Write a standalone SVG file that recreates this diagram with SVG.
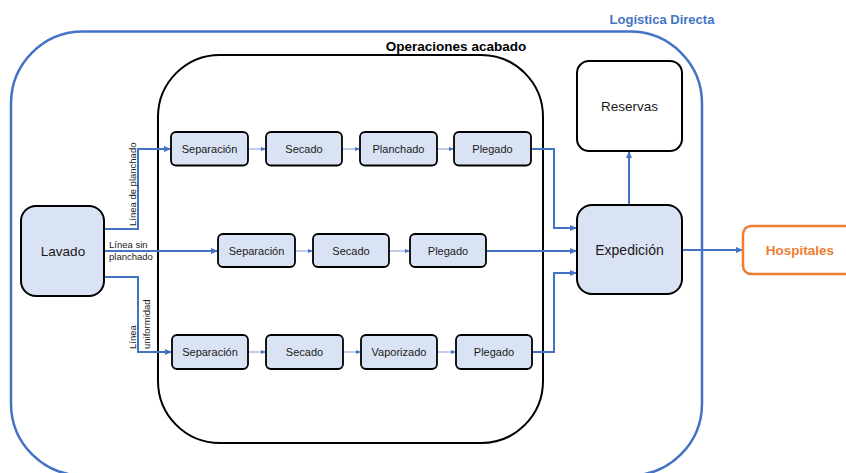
<svg xmlns="http://www.w3.org/2000/svg" width="846" height="473" viewBox="0 0 846 473">
  <style>
    .box { fill: #DAE3F3; stroke: #000; stroke-width: 1.8; }
    .big { fill: #DAE3F3; stroke: #000; stroke-width: 2; }
    .plain { fill: #fff; stroke: #000; stroke-width: 2; }
    .t { font-family: "Liberation Sans", Arial, sans-serif; fill: #1a1a1a; text-anchor: middle; dominant-baseline: central; }
    .small { font-size: 11px; }
    .lab { font-family: "Liberation Sans", Arial, sans-serif; font-size: 9.5px; fill: #1a1a1a; }
    .main { fill: none; stroke: #4472C4; stroke-width: 2; }
    .thin { fill: none; stroke: #7A9DD8; stroke-width: 1; }
  </style>
  <defs>
    <marker id="ah" markerUnits="userSpaceOnUse" markerWidth="8" markerHeight="8" refX="7" refY="4" orient="auto">
      <path d="M0,1 L7,4 L0,7 Z" fill="#4472C4"/>
    </marker>
    <marker id="ahs" markerUnits="userSpaceOnUse" markerWidth="6" markerHeight="6" refX="5" refY="3" orient="auto">
      <path d="M0,1 L5,3 L0,5 Z" fill="#4472C4"/>
    </marker>
  </defs>

  <!-- Direct logistics boundary -->
  <g id="logistica-directa">
    <rect x="11" y="31.5" width="691" height="444" rx="72" ry="72" fill="none" stroke="#4472C4" stroke-width="2.5"/>
    <text x="662" y="19" font-family="Liberation Sans, Arial, sans-serif" font-size="13px" font-weight="bold" fill="#4472C4" text-anchor="middle" dominant-baseline="central">Logística Directa</text>
  </g>

  <!-- Finishing operations container -->
  <g id="operaciones-acabado">
    <rect x="158" y="55" width="385" height="388" rx="62" ry="62" fill="none" stroke="#000" stroke-width="2"/>
    <text x="456" y="46" font-family="Liberation Sans, Arial, sans-serif" font-size="13.5px" font-weight="bold" fill="#000" text-anchor="middle" dominant-baseline="central">Operaciones acabado</text>
  </g>

  <!-- Connectors -->
  <g id="connectors">
    <!-- from Lavado -->
    <path class="main" d="M104,229 H138 V149 H171" marker-end="url(#ah)"/>
    <path class="main" d="M104,251 H218" marker-end="url(#ah)"/>
    <path class="main" d="M104,277 H138 V352 H172" marker-end="url(#ah)"/>
    <!-- within rows -->
    <path class="thin" d="M248,149 H266" marker-end="url(#ahs)"/>
    <path class="thin" d="M342,149 H360" marker-end="url(#ahs)"/>
    <path class="thin" d="M437,149 H454" marker-end="url(#ahs)"/>
    <path class="thin" d="M295,251 H313" marker-end="url(#ahs)"/>
    <path class="thin" d="M389,251 H410" marker-end="url(#ahs)"/>
    <path class="thin" d="M248,352 H266" marker-end="url(#ahs)"/>
    <path class="thin" d="M343,352 H361" marker-end="url(#ahs)"/>
    <path class="thin" d="M437,352 H456" marker-end="url(#ahs)"/>
    <!-- to Expedición -->
    <path class="main" d="M531,149 H554 V228 H577" marker-end="url(#ah)"/>
    <path class="main" d="M486,251 H577" marker-end="url(#ah)"/>
    <path class="main" d="M532,352 H554 V273 H577" marker-end="url(#ah)"/>
    <!-- from Expedición -->
    <path class="main" d="M629,205 V151" marker-end="url(#ah)"/>
    <path class="main" d="M682,250 H743" marker-end="url(#ah)"/>
    <!-- line labels -->
    <text class="lab" transform="translate(136,226) rotate(-90)">Línea de planchado</text>
    <text class="lab" x="109" y="247.5">Línea sin</text>
    <text class="lab" x="109" y="260">planchado</text>
    <text class="lab" transform="translate(135.5,349) rotate(-90)">Línea</text>
    <text class="lab" transform="translate(149.5,349) rotate(-90)">uniformidad</text>
  </g>

  <g id="lavado">
    <rect class="big" x="21" y="206" width="83" height="90" rx="15"/>
    <text class="t" x="63" y="251" font-size="13.5px">Lavado</text>
  </g>

  <!-- Ironing line -->
  <g id="separacion-1">
    <rect class="box" x="171" y="132" width="77" height="33.5" rx="5"/>
    <text class="t small" x="209.5" y="149">Separación</text>
  </g>
  <g id="secado-1">
    <rect class="box" x="266" y="132" width="76" height="33.5" rx="5"/>
    <text class="t small" x="304" y="149">Secado</text>
  </g>
  <g id="planchado">
    <rect class="box" x="360" y="132" width="77" height="33.5" rx="5"/>
    <text class="t small" x="398.5" y="149">Planchado</text>
  </g>
  <g id="plegado-1">
    <rect class="box" x="454" y="132" width="77" height="33.5" rx="5"/>
    <text class="t small" x="492.5" y="149">Plegado</text>
  </g>

  <!-- Line without ironing -->
  <g id="separacion-2">
    <rect class="box" x="218" y="234" width="77" height="33" rx="5"/>
    <text class="t small" x="256.5" y="251">Separación</text>
  </g>
  <g id="secado-2">
    <rect class="box" x="313" y="234" width="76" height="33" rx="5"/>
    <text class="t small" x="351" y="251">Secado</text>
  </g>
  <g id="plegado-2">
    <rect class="box" x="410" y="234" width="76" height="33" rx="5"/>
    <text class="t small" x="448" y="251">Plegado</text>
  </g>

  <!-- Uniform line -->
  <g id="separacion-3">
    <rect class="box" x="172" y="335" width="76" height="34" rx="5"/>
    <text class="t small" x="210" y="352">Separación</text>
  </g>
  <g id="secado-3">
    <rect class="box" x="266" y="335" width="77" height="34" rx="5"/>
    <text class="t small" x="304.5" y="352">Secado</text>
  </g>
  <g id="vaporizado">
    <rect class="box" x="361" y="335" width="76" height="34" rx="5"/>
    <text class="t small" x="399" y="352">Vaporizado</text>
  </g>
  <g id="plegado-3">
    <rect class="box" x="456" y="335" width="76" height="34" rx="5"/>
    <text class="t small" x="494" y="352">Plegado</text>
  </g>

  <g id="reservas">
    <rect class="plain" x="577" y="61" width="105" height="90" rx="12"/>
    <text class="t" x="629.5" y="106" font-size="13.5px">Reservas</text>
  </g>

  <g id="expedicion">
    <rect class="big" x="577" y="205" width="105" height="89" rx="15"/>
    <text class="t" x="629.5" y="250" font-size="14px">Expedición</text>
  </g>

  <g id="hospitales">
    <rect x="743" y="226" width="114" height="48" rx="8" fill="#fff" stroke="#ED7D31" stroke-width="2.5"/>
    <text class="t" x="800" y="250" font-size="13.5px" font-weight="bold" fill="#ED7D31" style="fill:#ED7D31">Hospitales</text>
  </g>
</svg>
